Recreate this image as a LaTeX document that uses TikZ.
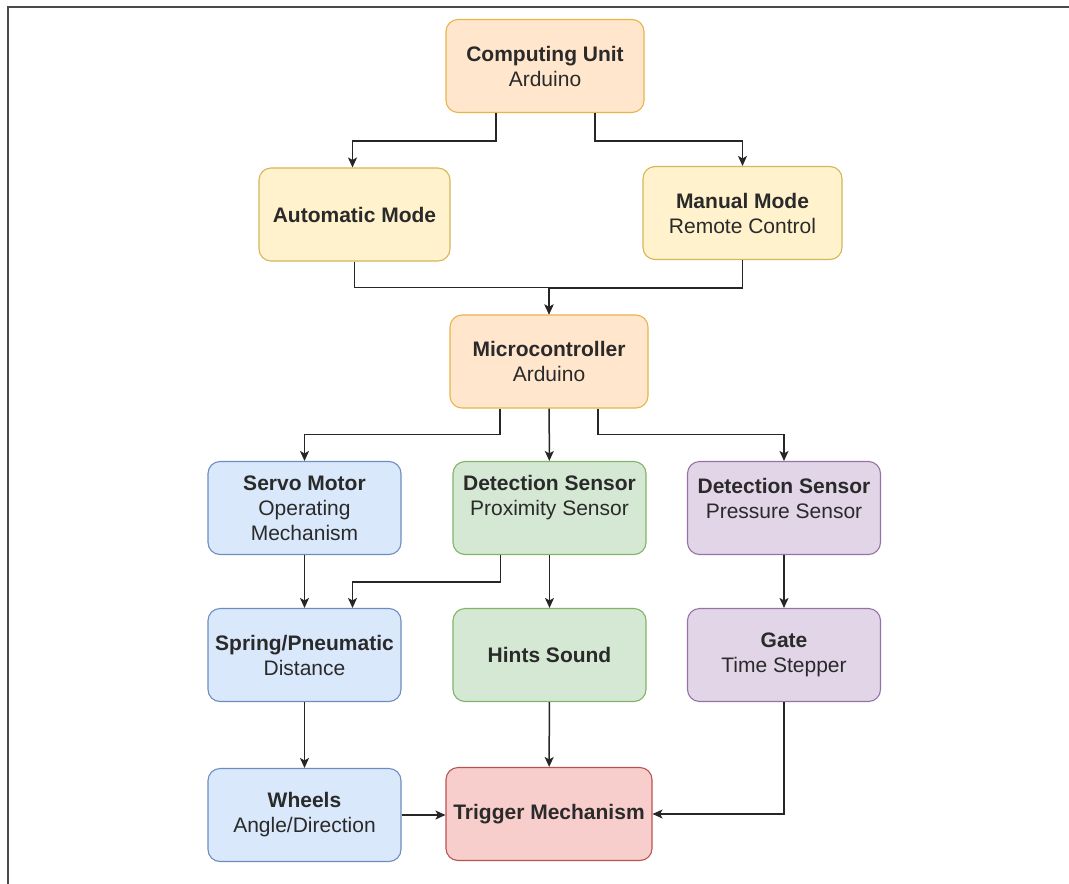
\documentclass[tikz,border=0pt]{standalone}
\usepackage{fontspec}
\setmainfont{Liberation Sans}
\usetikzlibrary{arrows.meta}

\definecolor{orangefill}{HTML}{FFE6CC}
\definecolor{orangeline}{HTML}{E8B449}
\definecolor{yellowfill}{HTML}{FFF2CC}
\definecolor{yellowline}{HTML}{D6B656}
\definecolor{bluefill}{HTML}{DAE8FC}
\definecolor{blueline}{HTML}{6C8EBF}
\definecolor{greenfill}{HTML}{D5E8D4}
\definecolor{greenline}{HTML}{82B366}
\definecolor{purplefill}{HTML}{E1D5E7}
\definecolor{purpleline}{HTML}{9673A6}
\definecolor{redfill}{HTML}{F8CECC}
\definecolor{redline}{HTML}{B85450}
\definecolor{framegray}{HTML}{4A4A4A}
\definecolor{subtext}{HTML}{2A2A2A}

\begin{document}
\begin{tikzpicture}[x=1pt,y=-1pt,
  box/.style={draw,rounded corners=12pt,line width=1.1pt,align=center,
    inner sep=2pt,minimum width=193pt,minimum height=93pt,
    font=\fontsize{21}{25}\selectfont,text=subtext},
  orangebox/.style={box,fill=orangefill,draw=orangeline},
  yellowbox/.style={box,fill=yellowfill,draw=yellowline},
  bluebox/.style={box,fill=bluefill,draw=blueline},
  greenbox/.style={box,fill=greenfill,draw=greenline},
  purplebox/.style={box,fill=purplefill,draw=purpleline},
  redbox/.style={box,fill=redfill,draw=redline},
  conn/.style={line width=1.5pt,draw=black!85,
    -{Stealth[length=10pt,width=9pt,inset=2.5pt]}}]
\useasboundingbox (0,0) rectangle (1069,884);

% Page frame
\draw[line width=2pt,framegray] (1069,7) -- (8,7) -- (8,884);

% Control
\node[orangebox,minimum width=198pt] (cu) at (545,66) {\textbf{Computing Unit}\\Arduino};
\node[yellowbox,minimum width=191pt] (auto) at (354.5,214.5) {\textbf{Automatic Mode}};
\node[yellowbox,minimum width=199pt] (man) at (742.5,213) {\textbf{Manual Mode}\\Remote Control};
\node[orangebox,minimum width=198pt] (mcu) at (549,361.5) {\textbf{Microcontroller}\\Arduino};

% Sensors and actuators
\node[bluebox] (servo) at (304.5,508) {\textbf{Servo Motor}\\Operating\\Mechanism};
\node[greenbox] (prox) at (549.5,508) {\textbf{Detection Sensor}\\Proximity Sensor\\\mbox{}};
\node[purplebox] (press) at (784,508) {\textbf{Detection Sensor}\\Pressure Sensor\\[-5pt]\mbox{}};
\node[bluebox] (spring) at (304.5,655) {\textbf{Spring/Pneumatic}\\Distance};
\node[greenbox] (hints) at (549.5,655) {\textbf{Hints Sound}};
\node[purplebox] (gate) at (784,655) {\textbf{Gate}\\Time Stepper};
\node[bluebox] (wheels) at (304.5,815) {\textbf{Wheels}\\Angle/Direction};
\node[redbox,minimum width=206pt] (trig) at (549,814) {\textbf{Trigger Mechanism}};

% Connectors
\draw[conn] ([xshift=-49pt]cu.south) -- ++(0,28) -| ([xshift=-2pt]auto.north);
\draw[conn] ([xshift=50pt]cu.south) -- ++(0,28) -| (man.north);
\draw[conn] (auto.south) -- ++(0,26) -| (mcu.north);
\draw[conn] (man.south) -- ++(0,28) -| (mcu.north);
\draw[conn] ([xshift=-49pt]mcu.south) -- ++(0,26) -| (servo.north);
\draw[conn] (mcu) -- (prox);
\draw[conn] ([xshift=49pt]mcu.south) -- ++(0,26) -| (press.north);
\draw[conn] (servo) -- (spring);
\draw[conn] ([xshift=-49pt]prox.south) -- ++(0,27) -| ([xshift=48pt]spring.north);
\draw[conn] (prox) -- (hints);
\draw[conn] (press) -- (gate);
\draw[conn] (spring) -- (wheels);
\draw[conn] (hints) -- (trig);
\draw[conn] (wheels.east) -- (wheels.east -| trig.west);
\draw[conn] (gate) |- (trig);
\end{tikzpicture}
\end{document}
